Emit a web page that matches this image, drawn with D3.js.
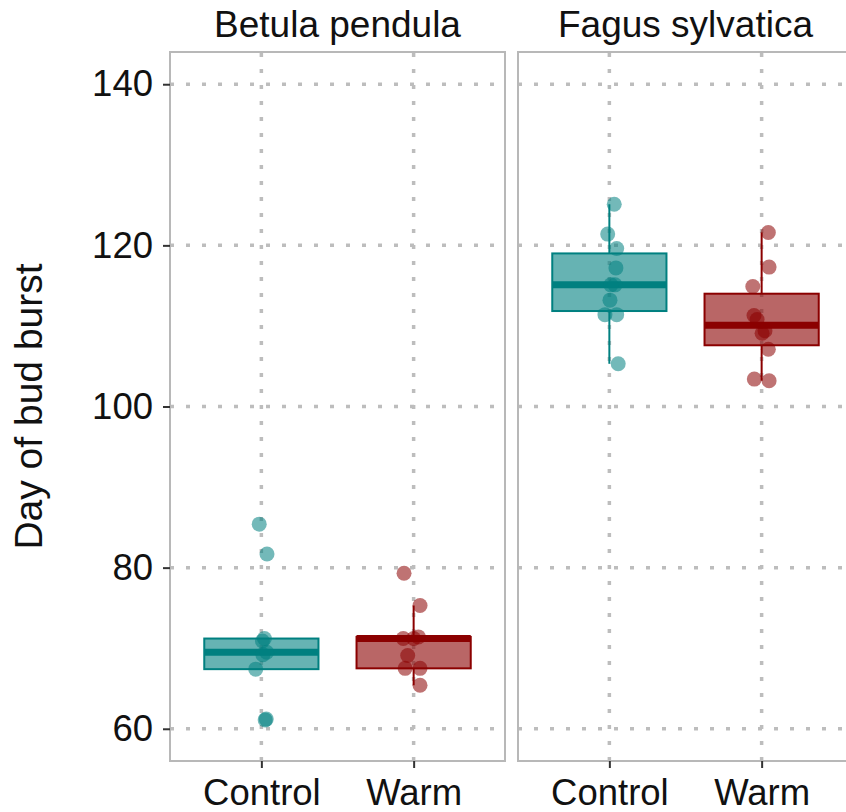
<!DOCTYPE html>
<html>
<head>
<meta charset="utf-8">
<script src="https://cdn.jsdelivr.net/npm/d3@7"></script>
<style>
  body { margin: 0; background: #fff; }
  text { font-family: "Liberation Sans", Arial, sans-serif; fill: #111; }
</style>
</head>
<body>
<div id="chart"></div>
<script>
// data
var species = ["Betula pendula", "Fagus sylvatica"];
var treatments = ["Control", "Warm"];
var yTicks = [60, 80, 100, 120, 140];

var betulaControl = [85.4, 81.7, 71.2, 70.9, 69.5, 69.2, 67.4, 61.2, 61.1];
var betulaWarm    = [79.3, 75.3, 71.2, 71.4, 71.2, 69.1, 67.5, 67.5, 65.4];
var fagusControl  = [125.1, 121.4, 119.6, 117.2, 115.1, 115.1, 113.2, 111.4, 111.4, 105.3];
var fagusWarm     = [121.6, 117.3, 114.9, 111.3, 110.8, 109.4, 109.1, 107.1, 103.4, 103.2];

// horizontal jitter of each point, in category units
var betulaControlJitter = [-0.014, 0.037, 0.02, 0.007, 0.035, 0.01, -0.037, 0.032, 0.025];
var betulaWarmJitter    = [-0.063, 0.042, -0.068, 0.031, 0.0, -0.039, -0.056, 0.042, 0.042];
var fagusControlJitter  = [0.032, -0.011, 0.048, 0.043, 0.037, 0.01, 0.004, -0.029, 0.048, 0.058];
var fagusWarmJitter     = [0.044, 0.049, -0.058, -0.05, -0.03, 0.022, 0.003, 0.044, -0.048, 0.049];

var groups = [
  { species: "Betula pendula", treatment: "Control", values: betulaControl, jitter: betulaControlJitter },
  { species: "Betula pendula", treatment: "Warm", values: betulaWarm, jitter: betulaWarmJitter },
  { species: "Fagus sylvatica", treatment: "Control", values: fagusControl, jitter: fagusControlJitter },
  { species: "Fagus sylvatica", treatment: "Warm", values: fagusWarm, jitter: fagusWarmJitter }
];

var colors = { Control: "#008080", Warm: "#8b0000" };

var width = 846, height = 812;
var panelTop = 52, panelBottom = 761;
var panelLeft = [170, 518], panelWidth = 335;

var svg = d3.select("#chart").append("svg")
    .attr("width", width)
    .attr("height", height);

// ylim(60,140) with ggplot's 5% expansion
var y = d3.scaleLinear()
    .domain([60 - 4, 140 + 4])
    .range([panelBottom, panelTop]);

var x = d3.scalePoint()
    .domain(treatments)
    .range([0, panelWidth])
    .padding(0.6);

var step = x.step();
var boxHalf = 0.375 * step;

function boxStats(vals) {
  var s = vals.slice().sort(d3.ascending);
  var q1 = d3.quantile(s, 0.25), med = d3.quantile(s, 0.5), q3 = d3.quantile(s, 0.75);
  var iqr = q3 - q1;
  var lo = d3.min(s.filter(function(v) { return v >= q1 - 1.5 * iqr; }));
  var hi = d3.max(s.filter(function(v) { return v <= q3 + 1.5 * iqr; }));
  return { q1: q1, med: med, q3: q3, lo: lo, hi: hi };
}

species.forEach(function(sp, i) {
  var g = svg.append("g")
      .attr("transform", "translate(" + panelLeft[i] + ",0)");

  g.append("rect")
      .attr("x", 0).attr("y", panelTop)
      .attr("width", panelWidth).attr("height", panelBottom - panelTop)
      .attr("fill", "#fff");

  // dotted grid
  g.selectAll(".hgrid")
      .data(yTicks)
      .enter().append("line")
      .attr("x1", 0).attr("x2", panelWidth)
      .attr("y1", function(d) { return y(d); })
      .attr("y2", function(d) { return y(d); })
      .attr("stroke", "#bdbdbd")
      .attr("stroke-width", 3.5)
      .attr("stroke-dasharray", "4,12");

  g.selectAll(".vgrid")
      .data(treatments)
      .enter().append("line")
      .attr("x1", function(d) { return x(d); })
      .attr("x2", function(d) { return x(d); })
      .attr("y1", panelBottom).attr("y2", panelTop)
      .attr("stroke", "#bdbdbd")
      .attr("stroke-width", 3.5)
      .attr("stroke-dasharray", "4,12");

  var gs = groups.filter(function(d) { return d.species === sp; });

  gs.forEach(function(d) {
    var st = boxStats(d.values);
    var cx = x(d.treatment);
    var col = colors[d.treatment];

    // whiskers
    g.append("line")
        .attr("x1", cx).attr("x2", cx)
        .attr("y1", y(st.q3)).attr("y2", y(st.hi))
        .attr("stroke", col).attr("stroke-width", 2);
    g.append("line")
        .attr("x1", cx).attr("x2", cx)
        .attr("y1", y(st.q1)).attr("y2", y(st.lo))
        .attr("stroke", col).attr("stroke-width", 2);

    g.append("rect")
        .attr("x", cx - boxHalf)
        .attr("y", y(st.q3))
        .attr("width", boxHalf * 2)
        .attr("height", y(st.q1) - y(st.q3))
        .attr("fill", col)
        .attr("fill-opacity", 0.6)
        .attr("stroke", col)
        .attr("stroke-width", 2);

    g.append("line")
        .attr("x1", cx - boxHalf).attr("x2", cx + boxHalf)
        .attr("y1", y(st.med)).attr("y2", y(st.med))
        .attr("stroke", col).attr("stroke-width", 7);

    g.selectAll(".pt-" + d.treatment)
        .data(d.values)
        .enter().append("circle")
        .attr("cx", function(v, k) { return cx + d.jitter[k] * step; })
        .attr("cy", function(v) { return y(v); })
        .attr("r", 7.5)
        .attr("fill", col)
        .attr("fill-opacity", 0.55);
  });

  // panel border
  g.append("rect")
      .attr("x", 0).attr("y", panelTop)
      .attr("width", panelWidth).attr("height", panelBottom - panelTop)
      .attr("fill", "none")
      .attr("stroke", "#b8b8b8")
      .attr("stroke-width", 2);

  // strip title
  g.append("text")
      .attr("x", panelWidth / 2)
      .attr("y", 37)
      .attr("text-anchor", "middle")
      .style("font-size", "37px")
      .text(sp);

  // x axis
  var xAxis = d3.axisBottom(x).tickSize(7).tickPadding(11);
  var ax = g.append("g")
      .attr("transform", "translate(0," + panelBottom + ")")
      .call(xAxis);
  ax.select(".domain").remove();
  ax.selectAll(".tick line").attr("stroke", "#333").attr("stroke-width", 2);
  ax.selectAll(".tick text")
      .attr("fill", "#111")
      .style("font-size", "36.5px")
      .style("font-family", "'Liberation Sans', Arial, sans-serif");
});

// y axis
var yAxis = d3.axisLeft(y).tickValues(yTicks).tickSize(7).tickPadding(10);
var ay = svg.append("g")
    .attr("transform", "translate(" + panelLeft[0] + ",0)")
    .call(yAxis);
ay.select(".domain").remove();
ay.selectAll(".tick line").attr("stroke", "#333").attr("stroke-width", 2);
ay.selectAll(".tick text")
    .attr("fill", "#111")
    .style("font-size", "36.5px")
    .style("font-family", "'Liberation Sans', Arial, sans-serif");

// y axis title
svg.append("text")
    .attr("transform", "translate(42," + ((panelTop + panelBottom) / 2) + ") rotate(-90)")
    .attr("text-anchor", "middle")
    .style("font-size", "39px")
    .text("Day of bud burst");
</script>
</body>
</html>
